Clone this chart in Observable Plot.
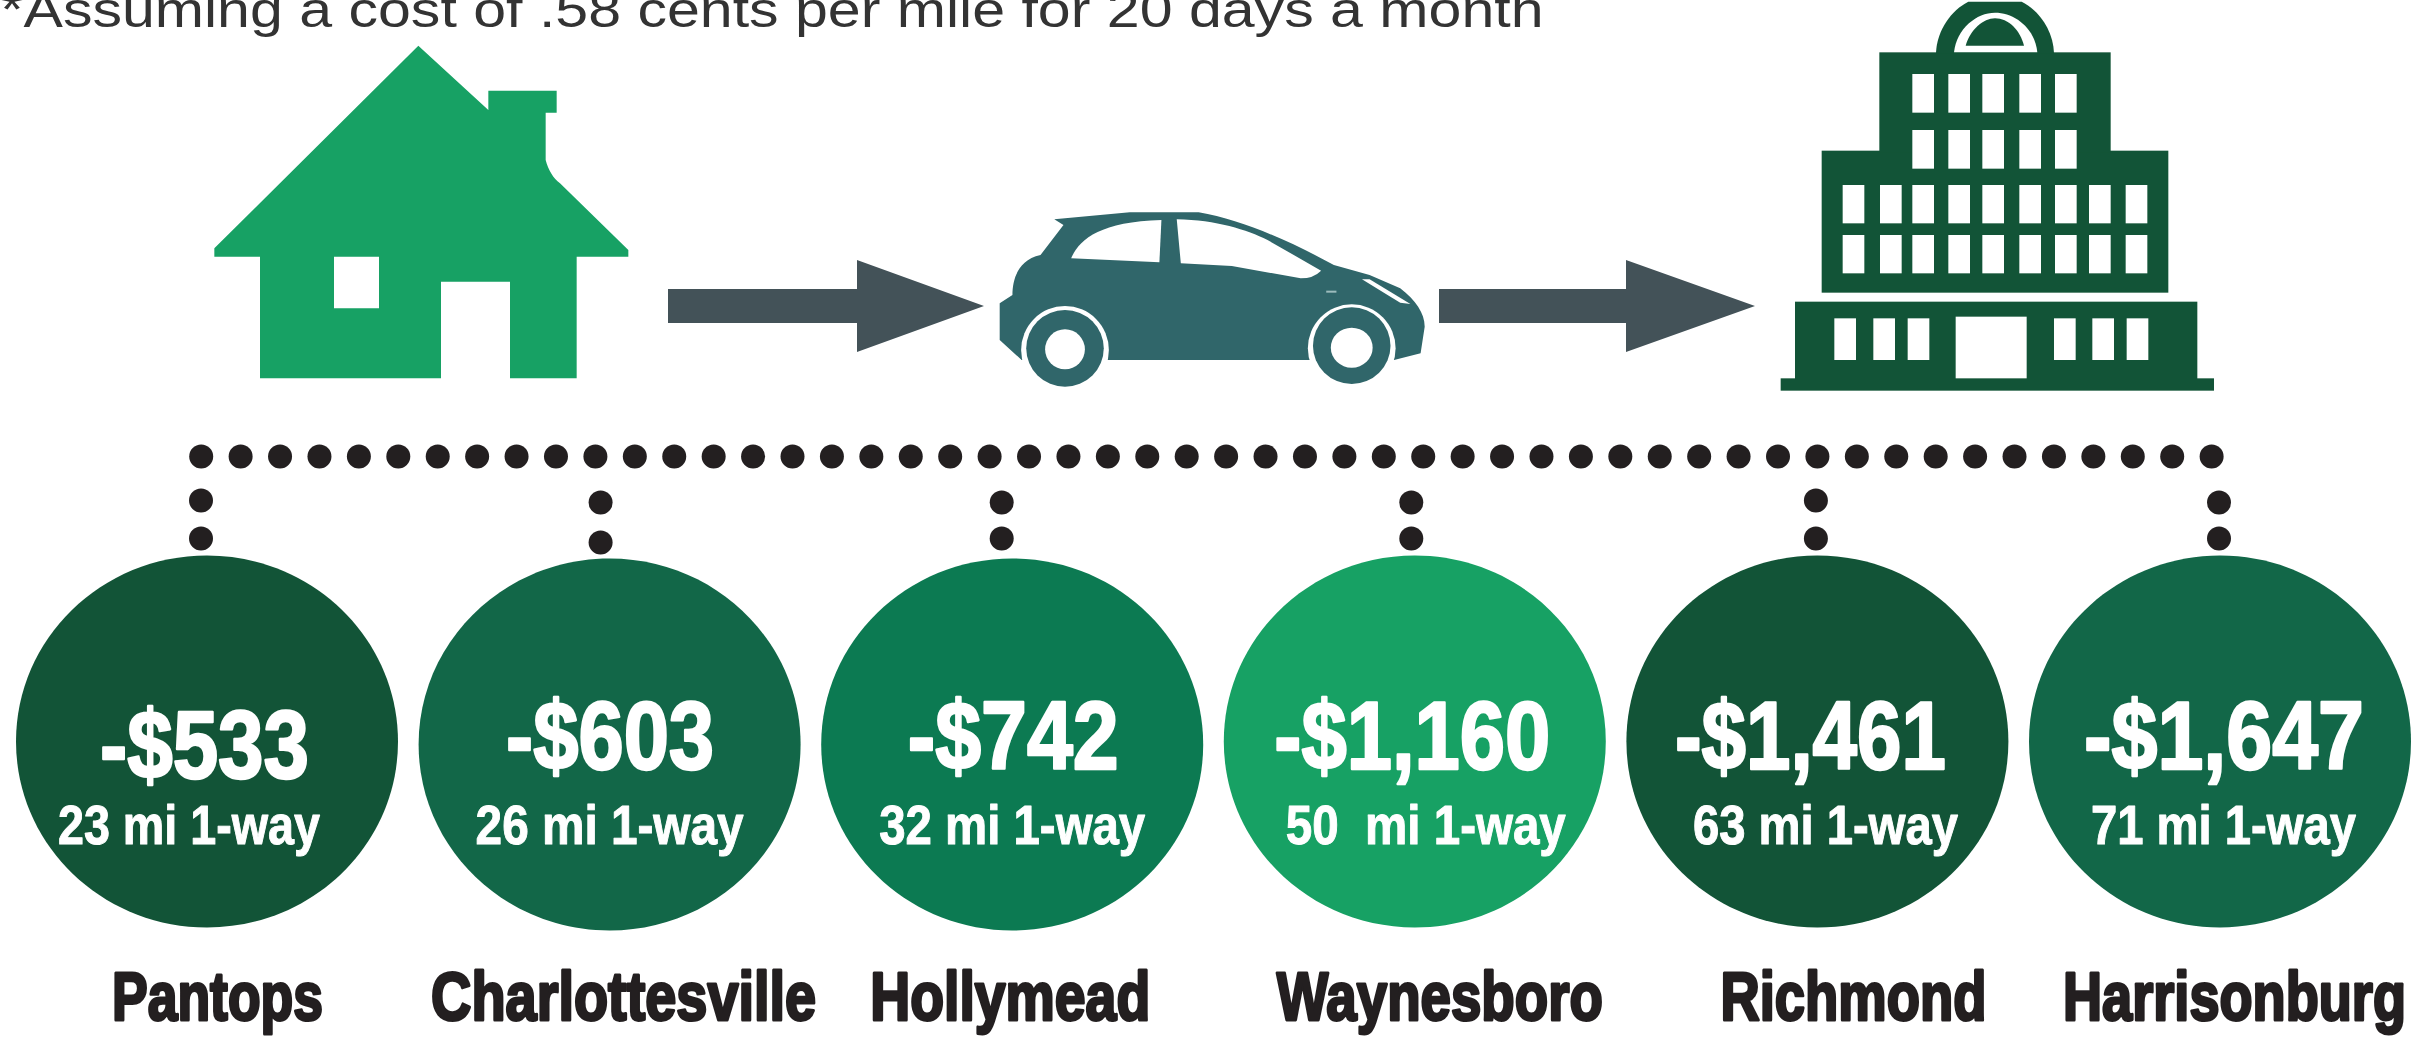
<!DOCTYPE html>
<html>
<head>
<meta charset="utf-8">
<script src="https://cdn.jsdelivr.net/npm/d3@7"></script>
<script src="https://cdn.jsdelivr.net/npm/@observablehq/plot@0.6"></script>
<style>
html,body{margin:0;padding:0;background:#fff;overflow:hidden}
svg{display:block}
</style>
</head>
<body>
<div id="chart"></div>
<script>
// ---- data ----
const cities = ["Pantops","Charlottesville","Hollymead","Waynesboro","Richmond","Harrisonburg"];
const costs = [533,603,742,1160,1461,1647];
const miles = [23,26,32,50,63,71];
const note = "*Assuming a cost of .58 cents per mile for 20 days a month";

// ---- layout and style, kept apart from the values ----
const W = 2431, H = 1037, INK = "#231f20", WHITE = "#ffffff";
const shadeColors = ["#125437","#126748","#0c7a52","#17a164"];
const circleCy = [741,744,744,741,741,741];
const amountDx = [-2.5,0.5,1,-2.5,-7,4], amountBase = [777,768,768,768,768,768], amountW = [209,208,211,276,271,280];
const milesDx = [-18,0,0,11,8,3.5], milesW = [262,268,266,280,265,265];
const nameDx = [10.5,14,-2,25,36,14.5], nameW = [211,385,280,326,266,343];
const stemDx = [-6,-9,-10.5,-3.5,-1.5,-1], stemY = [[500,538],[502,542],[502,538],[502,538],[500,538],[502,538]];
const RX = 191, RY = 186, SLOT = (2219.5 - 206.5) / 5;

const rows = cities.map((city,i) => ({
  i, city, cost: costs[i], mi: miles[i],
  amount: "-$" + d3.format(",")(costs[i]),
  sub: (miles[i] === 50 ? "50\u00a0\u00a0mi" : miles[i] + " mi") + " 1-way"
}));
const stems = rows.flatMap(d => stemY[d.i].map(y => ({x: d.i + stemDx[d.i] / SLOT, y})));
const leader = d3.range(52).map(k => ({x: (200.7 + k * 39.42 - 206.5) / SLOT, y: 456}));

// Circles are very slightly flattened in the source.
const ellipse = {draw(ctx, size) {
  const r = Math.sqrt(size / Math.PI), a = r, b = r * RY / RX, k = 0.5523;
  ctx.moveTo(a, 0);
  ctx.bezierCurveTo(a, k*b, k*a, b, 0, b);
  ctx.bezierCurveTo(-k*a, b, -a, k*b, -a, 0);
  ctx.bezierCurveTo(-a, -k*b, -k*a, -b, 0, -b);
  ctx.bezierCurveTo(k*a, -b, a, -k*b, a, 0);
  ctx.closePath();
}};

const fit = widths => (index, scales, values, dims, context, next) => {
  const g = next(index, scales, values, dims, context);
  g.querySelectorAll("text").forEach((t, j) => {
    t.setAttribute("textLength", widths[index[j]]);
    t.setAttribute("lengthAdjust", "spacingAndGlyphs");
  });
  return g;
};

// Pictograms: house, two arrows, car, building.
const rects = (xs, w, ys, h) => ys.flatMap(y => xs.map(x => `<rect x="${x}" y="${y}" width="${w}" height="${h}"/>`)).join("");
function pictograms() {
  const g = document.createElementNS("http://www.w3.org/2000/svg", "g");
  g.innerHTML = `
  <g transform="translate(180,0) scale(${1/3})" fill="#17a164">
    <path fill-rule="evenodd" d="M715,137 L925,330 L925,272 L1130,272 L1130,338 L1097,338 L1097,480 C1105,510 1120,535 1140,550 L1345,750 L1345,770 L1190,770 L1190,1135 L990,1135 L990,845 L783,845 L783,1135 L240,1135 L240,770 L103,770 L103,745 Z M462,770 L462,925 L597,925 L597,770 Z"/>
  </g>
  <g fill="#435258">
    <path d="M668,289 L857,289 L857,260 L984,306 L857,352 L857,323 L668,323 Z"/>
    <path d="M1439,289 L1626,289 L1626,260 L1755,306 L1626,352 L1626,323 L1439,323 Z"/>
  </g>
  <g transform="translate(640,180) scale(${1/1.96},${1/3})">
    <path fill="#30666a" d="M812,118 L960,97 L1095,97 C1180,120 1270,180 1360,255 L1430,285 L1490,325 C1520,360 1538,400 1538,440 L1530,520 L1478,540 L748,540 L705,480 L705,370 L730,345 C730,300 740,240 785,225 L830,135 Z"/>
    <path fill="#fff" d="M845,235 C860,180 900,125 1022,120 L1018,247 Z"/>
    <path fill="#fff" d="M1052,118 C1130,120 1190,150 1230,180 L1335,272 Q1320,295 1295,295 L1160,258 L1060,250 Z"/>
    <path fill="#fff" d="M1415,298 L1430,298 L1510,372 L1490,368 Z"/>
    <rect x="1345" y="332" width="20" height="6" fill="#9dbcbd"/>
    <ellipse cx="833" cy="510" rx="86" ry="132" fill="#fff"/>
    <ellipse cx="1395" cy="505" rx="86" ry="132" fill="#fff"/>
    <rect x="740" y="541" width="190" height="100" fill="#fff"/>
    <rect x="1300" y="541" width="190" height="100" fill="#fff"/>
    <ellipse cx="833" cy="505" rx="76" ry="115" fill="#30666a"/>
    <ellipse cx="1395" cy="497" rx="76" ry="115" fill="#30666a"/>
    <ellipse cx="833" cy="508" rx="39" ry="60" fill="#fff"/>
    <ellipse cx="1395" cy="503" rx="41" ry="60" fill="#fff"/>
  </g>
  <g transform="translate(1760,0) scale(${1/3})">
    <g fill="#125437">
      <rect x="62" y="1135" width="1300" height="37"/>
      <rect x="105" y="905" width="1207" height="232"/>
      <rect x="185" y="452" width="1040" height="426"/>
      <rect x="358" y="157" width="694" height="300"/>
      <path d="M528,160 C530,90 575,30 625,5 L785,5 C835,30 880,90 882,160 Z"/>
    </g>
    <path fill="#fff" d="M582,157 C590,85 650,38 705,38 C765,38 825,85 832,157 Z"/>
    <path fill="#125437" d="M617,137 C630,90 670,55 705,55 C745,55 780,90 792,137 Z"/>
    <g fill="#fff">
      ${rects([457,565,667,778,885],65,[222,390],116)}
      ${rects([248,360,457,565,667,778,885,987,1097],65,[555,705],115)}
      ${rects([223,340,443,882,997,1100],65,[955],125)}
      <rect x="587" y="950" width="213" height="185"/>
    </g>
  </g>`;
  return g;
}

const FONT = "'Liberation Sans Narrow','Arial Narrow',sans-serif";
const plot = Plot.plot({
  width: W, height: H,
  margin: 0,
  style: {background: "#fff", overflow: "hidden"},
  x: {type: "linear", domain: [0, 5], range: [206.5, 2219.5], axis: null},
  y: {type: "linear", domain: [0, H], range: [0, H], axis: null},
  color: {type: "ordinal", domain: [0,1,2,3], range: shadeColors},
  marks: [
    pictograms,
    Plot.dot(leader, {x: "x", y: "y", r: 12, fill: INK}),
    Plot.dot(stems, {x: "x", y: "y", r: 12, fill: INK}),
    Plot.dot(rows, {x: "i", y: d => circleCy[d.i], r: RX, symbol: ellipse, fill: d => d.i % 4}),
    Plot.text(rows, {
      x: d => d.i + amountDx[d.i] / SLOT, y: d => amountBase[d.i], text: "amount",
      lineAnchor: "bottom", fontFamily: FONT, fontWeight: 700, fontSize: 97,
      fill: WHITE, stroke: WHITE, strokeWidth: 2.5, render: fit(amountW)
    }),
    Plot.text(rows, {
      x: d => d.i + milesDx[d.i] / SLOT, y: 843, text: "sub",
      lineAnchor: "bottom", fontFamily: FONT, fontWeight: 700, fontSize: 55,
      fill: WHITE, stroke: WHITE, strokeWidth: 1, render: fit(milesW)
    }),
    Plot.text(rows, {
      x: d => d.i + nameDx[d.i] / SLOT, y: 1019, text: "city",
      lineAnchor: "bottom", fontFamily: FONT, fontWeight: 700, fontSize: 68,
      fill: INK, stroke: INK, strokeWidth: 3, render: fit(nameW)
    }),
    Plot.text([note], {
      frameAnchor: "top-left", dy: 26, dx: 0, lineAnchor: "bottom", text: d => d,
      fontFamily: "'Liberation Sans',Arial,sans-serif", fontSize: 50, fill: "#333333",
      render: fit([1543])
    })
  ]
});
document.getElementById("chart").appendChild(plot);
</script>
</body>
</html>
